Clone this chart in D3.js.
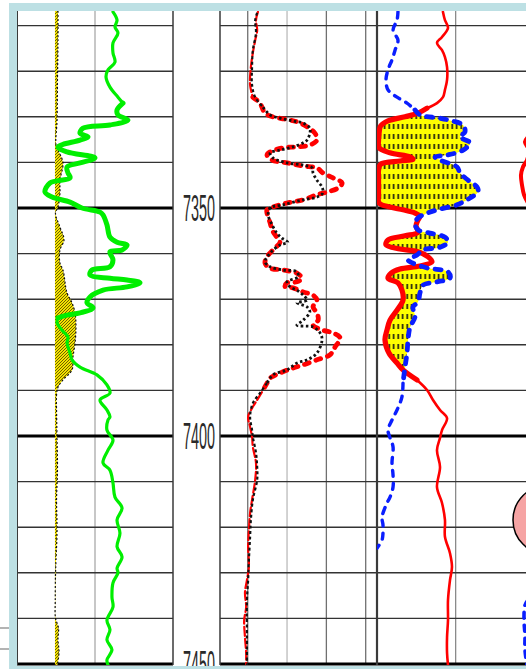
<!DOCTYPE html>
<html>
<head>
<meta charset="utf-8">
<script src="https://cdn.jsdelivr.net/npm/d3@7"></script>
<style>
  html, body { margin: 0; padding: 0; background: #fff; overflow: hidden; }
  svg { display: block; }
</style>
</head>
<body>
<svg id="log" width="526" height="669"></svg>
<script>
// ---------- depth grid ----------
const majorDepths = [7350, 7400, 7450];
const minorDepths = [7310, 7320, 7330, 7340, 7360, 7370, 7380, 7390, 7410, 7420, 7430, 7440];
const depthLabels = ["7350", "7400", "7450"];

// ---------- track grid values (in each track's own units) ----------
const track1Grid = [75];
const track2Grid = [10, 20, 30, 40];
const track3Grid = [75];

// ---------- track 1: gamma ray (green) and shaded shale curve ----------
const gr = [
  [7307.0,92.3],[7308.8,96.2],[7310.3,94.2],[7311.6,97.1],[7313.8,92.3],[7316.0,92.3],[7318.0,94.2],
  [7319.7,87.5],[7321.3,85.6],[7323.5,89.4],[7325.7,97.1],[7327.0,101.9],[7328.5,96.2],[7329.6,97.1],
  [7330.7,106.7],[7331.8,89.4],[7332.5,63.5],[7333.6,60.6],[7334.4,68.3],[7335.1,60.6],[7336.6,39.4],
  [7337.7,48.1],[7339.0,75.0],[7340.1,60.6],[7341.0,48.1],[7342.3,49.0],[7343.4,51.0],[7344.5,31.7],
  [7346.5,26.9],[7347.6,33.7],[7348.7,51.0],[7350.0,62.5],[7350.9,79.8],[7351.5,82.7],[7353.7,86.5],
  [7356.4,89.4],[7357.5,96.2],[7358.1,105.8],[7359.2,101.0],[7359.6,89.4],[7361.4,92.3],[7362.9,89.4],
  [7363.6,72.1],[7364.7,70.2],[7365.4,89.4],[7365.8,105.8],[7366.4,118.3],[7367.3,105.8],[7368.0,82.7],
  [7369.5,70.2],[7370.8,67.3],[7371.9,73.1],[7373.0,60.6],[7373.5,48.1],[7374.1,39.4],[7375.2,38.5],
  [7376.8,43.3],[7378.3,49.0],[7379.6,48.1],[7381.8,51.0],[7383.3,52.9],[7384.9,60.6],[7386.6,76.9],
  [7388.8,86.5],[7390.6,89.4],[7392.1,79.8],[7394.3,86.5],[7395.8,89.4],[7396.5,87.5],[7398.7,86.5],
  [7400.9,92.3],[7403.1,87.5],[7405.9,82.7],[7407.5,89.4],[7410.3,92.3],[7413.4,94.2],[7415.8,101.0],
  [7418.4,96.2],[7421.3,99.0],[7424.3,96.2],[7426.5,101.0],[7429.0,96.2],[7430.0,97.1],[7432.2,92.3],
  [7435.3,91.3],[7437.5,92.3],[7440.4,86.5],[7442.5,89.4],[7444.7,86.5],[7446.9,91.3],[7449.1,86.5],
  [7450.2,87.5]
];
const grThickZone = [7326.5, 7374.5];

const shaleBase = 36.5;
const shale = [
  [7306.8,39.4],[7313.2,39.4],[7321.9,38.9],[7330.7,38.5],[7336.2,37.5],[7337.3,39.4],[7340.1,44.2],
  [7343.9,41.3],[7346.7,41.3],[7349.8,39.4],[7351.1,37.0],[7354.2,41.3],[7357.0,45.2],[7359.2,41.3],
  [7362.1,41.3],[7363.6,44.2],[7368.6,48.1],[7370.8,52.9],[7373.0,55.8],[7376.1,56.7],[7379.6,55.8],
  [7382.7,53.8],[7385.5,52.9],[7387.7,44.2],[7389.3,39.4],[7391.0,38.0],[7394.3,38.0],[7400.9,38.5],
  [7407.5,38.9],[7414.0,38.0],[7420.6,38.5],[7427.2,37.5],[7430.5,37.0],[7436.0,36.8],[7439.9,37.0],
  [7442.1,39.9],[7444.7,39.4],[7447.4,40.4],[7450.2,38.9]
];

// ---------- track 2: red and black dashed porosity curves ----------
const t2Red = [
  [7307.0,12.6],[7308.8,12.1],[7311.0,12.4],[7313.2,11.9],[7316.0,11.3],[7319.1,10.8],[7323.0,10.6],
  [7325.7,11.3],[7327.0,13.1],[7329.2,14.4],[7330.0,16.4],[7330.5,19.5],[7331.1,22.5],[7332.2,25.1],
  [7333.6,27.1],[7335.1,27.6],[7336.2,25.8],[7336.6,22.5],[7336.8,19.0],[7337.7,15.7],[7338.4,14.9],
  [7339.5,16.2],[7340.1,20.0],[7340.8,24.1],[7341.2,27.6],[7342.3,29.1],[7343.4,31.7],[7344.5,34.0],
  [7345.6,33.0],[7346.5,30.2],[7347.1,27.6],[7348.2,24.1],[7348.9,20.0],[7349.8,16.4],[7350.4,14.9],
  [7351.1,14.9],[7353.3,15.7],[7354.8,16.2],[7356.4,17.4],[7357.5,18.2],[7359.2,16.4],[7360.7,14.9],
  [7362.1,14.4],[7363.2,15.7],[7363.6,19.0],[7364.3,22.5],[7365.4,23.8],[7366.2,22.5],[7366.4,20.0],
  [7367.3,19.5],[7367.5,21.5],[7368.4,24.1],[7369.1,26.6],[7370.2,27.6],[7371.7,26.6],[7373.0,27.6],
  [7374.6,27.9],[7375.7,26.6],[7376.8,29.1],[7377.4,31.7],[7378.5,33.5],[7380.5,32.2],[7382.2,30.9],
  [7383.3,27.6],[7384.4,24.1],[7385.1,21.5],[7386.2,18.2],[7387.3,15.7],[7388.4,14.9],[7390.4,13.6],
  [7392.1,12.4],[7393.9,11.1],[7395.8,10.1],[7398.0,10.6],[7400.2,11.1],[7402.4,11.3],[7405.9,12.1],
  [7409.6,11.9],[7414.0,11.1],[7416.9,10.6],[7420.6,10.3],[7424.3,10.1],[7428.7,10.3],[7431.6,9.8],
  [7434.4,9.3],[7437.5,9.6],[7440.4,9.1],[7444.1,9.3],[7447.6,9.6],[7450.2,9.6]
];
const t2RedThickZone = [7325.5, 7392];

const t2Black = [
  [7307.2,12.4],[7308.8,11.9],[7311.6,12.1],[7315.4,11.3],[7319.1,11.1],[7323.0,11.1],[7325.7,11.9],
  [7327.9,13.9],[7329.6,15.7],[7330.3,18.2],[7330.9,21.5],[7331.4,24.1],[7332.5,25.8],[7333.6,25.8],
  [7335.1,25.1],[7335.7,24.1],[7336.6,21.5],[7337.3,18.2],[7337.9,15.7],[7339.0,16.4],[7340.1,20.0],
  [7340.6,24.1],[7341.2,26.4],[7342.3,26.6],[7343.9,27.6],[7345.4,28.9],[7346.7,29.1],[7347.6,27.6],
  [7348.2,24.1],[7349.3,19.0],[7350.0,15.7],[7351.5,15.2],[7353.7,16.2],[7355.5,17.4],[7356.6,18.7],
  [7357.5,20.2],[7358.1,18.2],[7359.9,15.7],[7361.8,14.4],[7362.9,15.7],[7363.6,19.0],[7364.0,22.5],
  [7365.1,22.8],[7366.2,20.0],[7367.3,20.8],[7368.0,22.5],[7369.1,24.1],[7370.2,25.1],[7370.8,22.5],
  [7371.7,25.1],[7372.8,25.8],[7374.6,24.1],[7375.7,22.5],[7376.1,26.6],[7377.4,28.4],[7378.9,28.9],
  [7381.8,27.6],[7383.3,25.1],[7384.0,22.5],[7385.5,20.0],[7386.6,16.4],[7388.4,14.9],[7390.6,13.1],
  [7392.8,11.3],[7395.8,10.6],[7398.7,11.1],[7400.2,11.3],[7403.7,12.1],[7406.8,12.4],[7409.6,12.4],
  [7414.0,11.3],[7418.4,10.8],[7422.1,10.6],[7427.2,10.3],[7431.6,10.1],[7436.0,9.8],[7444.1,9.8],
  [7450.2,9.8]
];
const t2BlackThickZone = [7327, 7390];

// ---------- track 3: red (solid) and blue (dashed) with crossover shading ----------
const t3Red = [
  [7307.0,62.9],[7308.8,64.8],[7310.5,67.7],[7312.5,62.0],[7313.8,57.2],[7315.4,62.0],[7316.9,64.8],
  [7319.1,66.8],[7321.9,66.8],[7324.1,64.8],[7325.7,62.9],[7327.0,57.2],[7328.1,47.7],[7329.2,39.1],
  [7330.0,26.7],[7330.9,10.5],[7332.0,3.5],[7333.6,2.0],[7335.1,1.5],[7336.8,2.0],[7337.9,12.4],
  [7338.8,31.5],[7339.3,34.3],[7339.7,21.9],[7340.4,3.5],[7341.7,1.5],[7343.9,1.5],[7346.7,1.5],
  [7348.9,2.0],[7349.8,12.4],[7350.4,24.8],[7351.1,36.2],[7351.8,41.0],[7352.6,39.1],[7353.9,37.2],
  [7355.3,39.1],[7356.1,26.7],[7357.0,10.5],[7358.1,8.6],[7359.0,21.9],[7359.6,39.1],[7360.7,48.6],
  [7361.8,52.4],[7362.7,41.0],[7363.4,21.9],[7364.3,13.4],[7365.4,10.5],[7366.4,20.0],[7368.0,23.8],
  [7370.2,24.8],[7372.4,19.1],[7374.6,12.4],[7376.8,9.5],[7378.9,7.6],[7381.8,11.4],[7384.0,19.1],
  [7385.5,24.8],[7387.7,38.1],[7389.9,47.7],[7392.1,53.4],[7394.3,60.1],[7396.1,66.8],[7398.7,62.0],
  [7400.4,60.1],[7403.1,57.2],[7406.8,60.1],[7411.2,57.2],[7414.7,62.0],[7418.4,64.8],[7422.1,64.8],
  [7425.7,69.6],[7428.7,71.5],[7431.6,69.6],[7436.0,67.7],[7440.4,67.7],[7444.1,66.8],[7447.6,66.8],
  [7450.2,67.7]
];
const t3Blue = [
  [7307.0,20.0],[7308.8,19.1],[7311.0,15.3],[7313.2,20.0],[7315.4,17.2],[7317.5,14.3],[7319.7,10.5],
  [7321.9,8.6],[7324.1,10.5],[7325.7,19.1],[7327.0,28.6],[7328.5,36.2],[7329.6,41.0],[7330.3,60.1],
  [7330.9,71.5],[7331.8,82.0],[7333.3,83.9],[7334.4,79.1],[7335.7,88.7],[7337.3,82.0],[7338.4,66.8],
  [7338.8,55.3],[7339.5,60.1],[7341.0,76.3],[7342.3,79.1],[7343.9,86.8],[7345.4,95.4],[7346.5,96.3],
  [7347.8,88.7],[7349.3,76.3],[7350.4,57.2],[7351.3,45.8],[7352.2,39.1],[7353.3,36.2],[7354.8,39.1],
  [7355.5,50.5],[7356.4,64.8],[7357.5,67.7],[7358.6,60.1],[7359.2,43.9],[7360.3,38.1],[7361.4,29.6],
  [7362.1,34.3],[7363.2,48.6],[7364.0,67.7],[7365.4,69.6],[7366.2,57.2],[7366.9,43.9],[7368.6,41.0],
  [7370.6,39.1],[7371.7,34.3],[7373.9,36.2],[7376.1,31.5],[7378.9,29.6],[7381.8,28.6],[7384.9,26.7],
  [7388.4,24.8],[7391.4,23.8],[7394.3,19.1],[7396.5,14.3],[7398.7,10.5],[7400.4,12.4],[7402.4,15.3],
  [7405.9,14.3],[7408.6,15.3],[7411.2,15.3],[7413.4,12.4],[7414.7,9.5],[7417.8,4.8],[7419.5,5.7],
  [7421.3,5.7],[7422.8,4.8],[7424.6,0.0]
];
const t3ThickZone = [7327.5, 7388.5];

// high readings that only just enter the right edge of track 3
const t3RedHigh = [
  [7334.0,145.9],[7335.5,141.1],[7337.3,145.0],[7339.5,143.0],[7341.0,139.2],[7342.8,137.3],
  [7345.0,138.3],[7347.1,140.2],[7348.9,144.0]
];
const t3BlueHigh = [
  [7436.0,144.0],[7437.1,141.1],[7440.4,140.2],[7443.7,141.1],[7446.9,141.1],[7450.2,143.0]
];
const coreMarkers = [{ depth: 7418.4, value: 162.6, radius: 7.57 }];

// ---------- layout ----------
const svg = d3.select("#log");
const W = 526, H = 669;
const PLOT_TOP = 11, PLOT_BOTTOM = 665;
const y = d3.scaleLinear().domain([7350, 7400]).range([208, 436]);

const t1 = { left: 17, right: 173, x: d3.scaleLinear().domain([0, 150]).range([17, 173]) };
const t2 = { left: 220, right: 377, x: d3.scaleLinear().domain([0, 40]).range([208.4, 365.7]) };
const t3 = { left: 377, right: 526, x: d3.scaleLinear().domain([0, 150]).range([377, 534.3]) };
const depthTrack = { left: 173, right: 220 };

const defs = svg.append("defs");
[["clip1", t1], ["clip2", t2], ["clip3", t3]].forEach(([id, t]) => {
  defs.append("clipPath").attr("id", id).append("rect")
    .attr("x", t.left).attr("y", PLOT_TOP)
    .attr("width", t.right - t.left).attr("height", PLOT_BOTTOM - PLOT_TOP);
});

// hatched yellow for the shale shading
const hatch = defs.append("pattern").attr("id", "hatchYellow")
  .attr("patternUnits", "userSpaceOnUse").attr("width", 3).attr("height", 3);
hatch.append("rect").attr("width", 3).attr("height", 3).attr("fill", "#f2e200");
hatch.append("path").attr("d", "M-1,1 L1,-1 M0,3 L3,0 M2,4 L4,2")
  .attr("stroke", "#4a3d00").attr("stroke-width", 0.8);

// yellow with short black dashes for the crossover shading
const dots = defs.append("pattern").attr("id", "dashYellow")
  .attr("patternUnits", "userSpaceOnUse").attr("width", 4.5).attr("height", 10);
dots.append("rect").attr("width", 4.5).attr("height", 10).attr("fill", "#ffff00");
dots.append("rect").attr("x", 1.4).attr("y", 4).attr("width", 1.6).attr("height", 5).attr("fill", "#111");

svg.append("rect").attr("width", W).attr("height", H).attr("fill", "#fff");

const curve = d3.curveCatmullRom.alpha(0.5);

function drawGrid(t, gridVals, gridStyle) {
  const g = svg.append("g");
  gridVals.forEach((v, i) => {
    const st = gridStyle(i);
    g.append("line").attr("x1", t.x(v)).attr("x2", t.x(v))
      .attr("y1", PLOT_TOP).attr("y2", PLOT_BOTTOM)
      .attr("stroke", st.color).attr("stroke-width", st.width);
  });
  minorDepths.forEach(d => {
    g.append("line").attr("x1", t.left).attr("x2", t.right)
      .attr("y1", y(d)).attr("y2", y(d))
      .attr("stroke", "#333").attr("stroke-width", 1.4);
  });
  majorDepths.forEach(d => {
    g.append("line").attr("x1", t.left).attr("x2", t.right)
      .attr("y1", y(d)).attr("y2", y(d))
      .attr("stroke", "#000").attr("stroke-width", 3.2);
  });
}

drawGrid(t1, track1Grid, () => ({ color: "#b4b4b4", width: 1.5 }));
drawGrid(t2, track2Grid, i => (i === 1 ? { color: "#c4c4c4", width: 1.5 } : { color: "#707070", width: 1.3 }));
drawGrid(t3, track3Grid, () => ({ color: "#8a8a8a", width: 1.3 }));

// track borders
[[t1.left, 2], [t1.right, 1.5], [t2.left, 1.5], [t3.left, 2.2]].forEach(([x, w]) => {
  svg.append("line").attr("x1", x).attr("x2", x).attr("y1", PLOT_TOP).attr("y2", PLOT_BOTTOM)
    .attr("stroke", "#3a3a3a").attr("stroke-width", w);
});

// split a curve into thin / thick / thin pieces sharing their end points
function splitZone(data, zone) {
  if (!zone) return [{ pts: data, thick: false }];
  let i0 = data.findIndex(d => d[0] >= zone[0]);
  let i1 = -1;
  data.forEach((d, i) => { if (d[0] <= zone[1]) i1 = i; });
  const parts = [
    { pts: data.slice(0, i0 + 1), thick: false },
    { pts: data.slice(i0, i1 + 1), thick: true },
    { pts: data.slice(i1), thick: false }
  ];
  return parts.filter(p => p.pts.length > 1);
}

function drawCurve(g, data, xs, st, zone) {
  const line = d3.line().x(d => xs(d[1])).y(d => y(d[0])).curve(curve);
  splitZone(data, zone).forEach(p => {
    const path = g.append("path").attr("d", line(p.pts)).attr("fill", "none")
      .attr("stroke", st.color)
      .attr("stroke-width", p.thick ? st.thick : st.thin)
      .attr("stroke-linecap", st.cap || "round")
      .attr("stroke-linejoin", "round");
    const dash = p.thick ? st.dashThick : st.dashThin;
    if (dash) path.attr("stroke-dasharray", dash);
  });
}

// ---------- track 1 ----------
const g1 = svg.append("g").attr("clip-path", "url(#clip1)");
g1.append("path")
  .attr("d", d3.area().y(d => y(d[0])).x0(t1.x(shaleBase)).x1(d => t1.x(d[1])).curve(curve)(shale))
  .attr("fill", "url(#hatchYellow)");
drawCurve(g1, shale, t1.x, { color: "#111", thin: 1.2, thick: 1.2, dashThin: "2 2", cap: "butt" });
drawCurve(g1, gr, t1.x, { color: "#00ee00", thin: 3.2, thick: 5 }, grThickZone);

// ---------- track 2 ----------
const g2 = svg.append("g").attr("clip-path", "url(#clip2)");
drawCurve(g2, t2Red, t2.x, { color: "#ff0000", thin: 2.2, thick: 4.8, dashThin: "9 3", dashThick: "5 7", cap: "round" }, t2RedThickZone);
drawCurve(g2, t2Black, t2.x, { color: "#111", thin: 2.2, thick: 2.8, dashThin: "3 2.5", dashThick: "2.5 2.5", cap: "butt" }, t2BlackThickZone);

// ---------- track 3 ----------
const g3 = svg.append("g").attr("clip-path", "url(#clip3)");
defs.append("clipPath").attr("id", "rightOfRed").append("path")
  .attr("d", d3.area().y(d => y(d[0])).x0(d => t3.x(d[1])).x1(t3.right + 40).curve(curve)(t3Red));
g3.append("path")
  .attr("d", d3.area().y(d => y(d[0])).x0(t3.left - 10).x1(d => t3.x(d[1])).curve(curve)(t3Blue))
  .attr("fill", "url(#dashYellow)")
  .attr("clip-path", "url(#rightOfRed)");

drawCurve(g3, t3Red, t3.x, { color: "#ff0000", thin: 2.6, thick: 5.2 }, t3ThickZone);
drawCurve(g3, t3Blue, t3.x, { color: "#0a1eff", thin: 3.4, thick: 4.8, dashThin: "6 7", dashThick: "6 8" }, t3ThickZone);
drawCurve(g3, t3RedHigh, t3.x, { color: "#ff0000", thin: 4, thick: 4 });
drawCurve(g3, t3BlueHigh, t3.x, { color: "#0a1eff", thin: 3.6, thick: 3.6, dashThin: "6 7" });

coreMarkers.forEach(m => {
  g3.append("circle")
    .attr("cx", t3.x(m.value)).attr("cy", y(m.depth))
    .attr("r", y(m.depth + m.radius) - y(m.depth))
    .attr("fill", "#f6a4a4").attr("stroke", "#000").attr("stroke-width", 1.5);
});

// ---------- depth labels ----------
majorDepths.forEach((d, i) => {
  svg.append("text")
    .attr("x", depthTrack.left + 10).attr("y", y(d) + 13)
    .attr("font-family", "Liberation Sans, Arial, sans-serif")
    .attr("font-size", 36)
    .attr("fill", "#2a2a2a")
    .attr("textLength", 32).attr("lengthAdjust", "spacingAndGlyphs")
    .text(depthLabels[i]);
});

// ---------- frame ----------
const frame = "#bde0e4";
svg.append("rect").attr("x", 9).attr("y", 3).attr("width", W - 9).attr("height", 8).attr("fill", frame);
svg.append("rect").attr("x", 9).attr("y", 3).attr("width", 8).attr("height", H - 3).attr("fill", frame);
svg.append("rect").attr("x", 9).attr("y", 666).attr("width", W - 9).attr("height", 3).attr("fill", frame);
[628, 649].forEach(yy => {
  svg.append("line").attr("x1", 0).attr("x2", 9).attr("y1", yy).attr("y2", yy)
    .attr("stroke", "#9a9a9a").attr("stroke-width", 1.5);
});
</script>
</body>
</html>
